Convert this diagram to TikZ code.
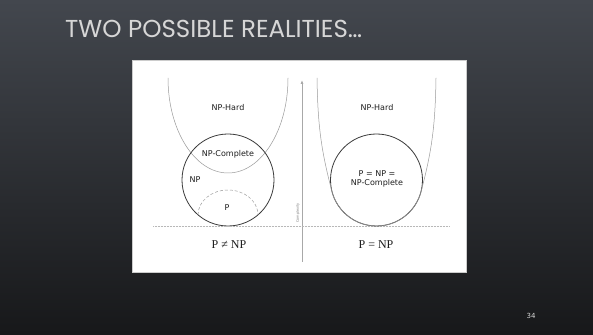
\documentclass[tikz,border=0pt]{standalone}
\usepackage{fontspec}
\setmainfont{DejaVu Sans}
\newfontfamily\titlefont{Poppins}
\newfontfamily\relfont{Liberation Serif}
\usepackage{tikz}
\usetikzlibrary{arrows.meta}
\definecolor{slideTop}{HTML}{43474E}
\definecolor{slideBottom}{HTML}{17181A}
\definecolor{titleGrey}{HTML}{D6D6D6}
\definecolor{setLine}{HTML}{3A3A3A}
\definecolor{hardLine}{HTML}{9A9A9A}
\definecolor{axisGrey}{HTML}{A8A8A8}
\definecolor{labelInk}{HTML}{1E1E1E}
\tikzset{
  setlabel/.style={font=\fontsize{8}{9}\selectfont, text=labelInk, align=center, inner sep=1pt},
  rellabel/.style={font=\relfont\fontsize{12}{13}\selectfont, text=labelInk, inner sep=1pt},
  npcircle/.style={draw=setLine, line width=0.8pt},
  hardcurve/.style={draw=hardLine, line width=0.5pt},
  pbound/.style={draw=hardLine, line width=0.5pt, densely dashed},
  baseline/.style={draw=hardLine!70, line width=0.5pt, densely dotted},
  axisarrow/.style={-{Latex[length=4pt,width=3pt]}, draw=axisGrey, line width=1pt},
}
\begin{document}
\begin{tikzpicture}[x=1pt,y=1pt]
  % slide background
  \useasboundingbox (0,0) rectangle (593,334);
  \shade[top color=slideTop, bottom color=slideBottom] (0,0) rectangle (593,334);
  \node[anchor=base west, font=\titlefont\fontsize{24.5}{26}\selectfont, text=titleGrey, inner sep=0pt] (title) at (65,296) {TWO POSSIBLE REALITIES\ldots};
  \node[font=\fontsize{7}{8}\selectfont, text=titleGrey, inner sep=0pt] (pagenum) at (531,18) {34};

  % white panel
  \draw[fill=white, draw=gray!40, line width=0.4pt] (132,62) rectangle (466,274);

  % --- P != NP side ---
  \draw[hardcurve] (168,256) arc[start angle=180, end angle=360, x radius=60, y radius=95];
  \draw[npcircle] (228,154) circle[radius=46];
  \draw[pbound] (198,119) arc[start angle=180, end angle=0, x radius=30, y radius=25];
  \node[setlabel] (hardL) at (228,226) {NP-Hard};
  \node[setlabel] (npcL) at (228,180) {NP-Complete};
  \node[setlabel] (npL) at (195,154) {NP};
  \node[setlabel] (pL) at (227,126) {P};
  \node[rellabel] (neq) at (229,89) {P ≠ NP};

  % complexity axis and base line
  \coordinate (axisBottom) at (302,72);
  \coordinate (axisTop) at (302,254);
  \draw[axisarrow] (axisBottom) -- (axisTop);
  \node[font=\fontsize{3.5}{4}\selectfont, text=gray, rotate=90, inner sep=0pt] (cplx) at (298,121) {Complexity};
  \coordinate (baseL) at (153,108);
  \coordinate (baseR) at (450,108);
  \draw[baseline] (baseL) -- (baseR);

  % --- P = NP side ---
  \draw[npcircle] (376.5,154) circle[radius=46];
  \draw[hardcurve] (317,256) to[out=-89, in=105] (332.1,142.1)
    arc[start angle=195, end angle=345, radius=46]
    to[out=75, in=-91] (436,256);
  \node[setlabel] (hardR) at (377,226) {NP-Hard};
  \node[setlabel] (eqR) at (377,155) {P = NP =\\NP-Complete};
  \node[rellabel] (eq) at (376,89) {P = NP};
\end{tikzpicture}
\end{document}
